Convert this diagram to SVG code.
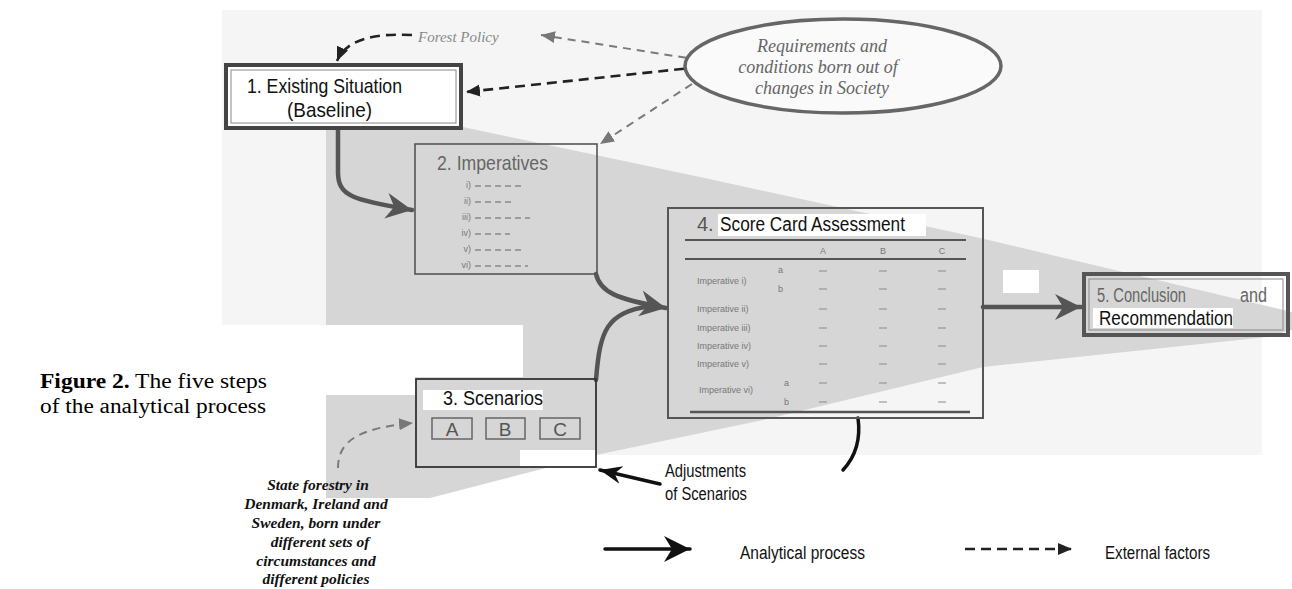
<svg xmlns="http://www.w3.org/2000/svg" width="1292" height="589" viewBox="0 0 1292 589">
<style>
.sans{font-family:"Liberation Sans",Arial,sans-serif}
.serif{font-family:"Liberation Serif","Times New Roman",serif}
.ital{font-family:"Liberation Serif","Times New Roman",serif;font-style:italic}
.solid{fill:none;stroke:#555;stroke-width:4.5;stroke-linecap:round}
.blk{fill:none;stroke:#111;stroke-width:3.5;stroke-linecap:round}
.dashG{fill:none;stroke:#7a7a7a;stroke-width:2;stroke-dasharray:8 6}
.dashD{fill:none;stroke:#222;stroke-width:2.6;stroke-dasharray:10 6}
.item{fill:none;stroke:#8a8a8a;stroke-width:1.3;stroke-dasharray:6 4}
.cell{stroke:#8a8a8a;stroke-width:1.2}
.small{font-family:"Liberation Sans",Arial,sans-serif;font-size:9px;fill:#777}
</style>
<defs>
<marker id="bigG" viewBox="-26 -14 28 28" refX="0" refY="0" markerWidth="28" markerHeight="28" markerUnits="userSpaceOnUse" orient="auto">
<path d="M0,0 L-26,-13 L-18,0 L-26,13 Z" fill="#555"/>
</marker>
<marker id="bigK" viewBox="-26 -14 28 28" refX="0" refY="0" markerWidth="28" markerHeight="28" markerUnits="userSpaceOnUse" orient="auto">
<path d="M0,0 L-26,-13 L-18,0 L-26,13 Z" fill="#111"/>
</marker>
<marker id="headK" viewBox="-22 -10 24 20" refX="0" refY="0" markerWidth="24" markerHeight="20" markerUnits="userSpaceOnUse" orient="auto">
<path d="M0,0 L-22,-9 L-15,0 L-22,9 Z" fill="#111"/>
</marker>
<marker id="triG" viewBox="-14 -7 15 14" refX="0" refY="0" markerWidth="15" markerHeight="14" markerUnits="userSpaceOnUse" orient="auto">
<path d="M0,0 L-14,-6 L-14,6 Z" fill="#777"/>
</marker>
<marker id="triD" viewBox="-14 -7 15 14" refX="0" refY="0" markerWidth="15" markerHeight="14" markerUnits="userSpaceOnUse" orient="auto">
<path d="M0,0 L-14,-6 L-14,6 Z" fill="#222"/>
</marker>
</defs>
<rect width="1292" height="589" fill="#fff"/>
<g id="background">
<rect x="222" y="10" width="1040" height="445" fill="#f5f5f5"/>
<polygon points="326,127 463,127 700,177 980,238 1292,312 1292,330 1267,337 983,367 763,420 596,455 430,498 326,498" fill="#d6d6d6"/>
<rect x="220" y="325" width="303" height="52" fill="#fff"/>
<rect x="220" y="377" width="195" height="18" fill="#fff"/>
<rect x="220" y="395" width="106" height="194" fill="#fff"/>
<rect x="520" y="450" width="76" height="17" fill="#fff"/>
<rect x="1003" y="270" width="36" height="23" fill="#fff"/>
</g>
<g id="caption">
<text class="serif" x="40" y="388" font-size="20" textLength="227" lengthAdjust="spacingAndGlyphs"><tspan font-weight="bold">Figure 2.</tspan> The five steps</text>
<text class="serif" x="40" y="413" font-size="20" textLength="226" lengthAdjust="spacingAndGlyphs">of the analytical process</text>
</g>
<g id="connectors">
<path class="solid" d="M338,130 L338,172 C338,196 352,200 412,210" marker-end="url(#bigG)"/>
<path class="solid" d="M596,274 C600,292 616,299 666,308" marker-end="url(#bigG)"/>
<path class="solid" d="M596,380 C600,330 606,313 650,306"/>
<path class="solid" d="M983,307 L1081,307" marker-end="url(#bigG)"/>
<path class="blk" d="M858,418 C861,440 856,456 843,470"/>
<path class="blk" d="M660,484 L600,470" marker-end="url(#headK)"/>
<path class="dashD" d="M412,35 C372,33 346,40 337,61" marker-end="url(#triD)"/>
<path class="dashG" d="M700,60 L541,35" marker-end="url(#triG)"/>
<path class="dashD" d="M700,67 L466,92" marker-end="url(#triD)"/>
<path class="dashG" d="M692,84 L600,144" marker-end="url(#triG)"/>
<path class="dashG" d="M700,61 L722,62" marker-end="url(#triG)"/>
<path class="dashG" d="M338,468 C338,440 360,428 413,423" marker-end="url(#triG)"/>
<path class="blk" d="M605,549 L690,549" stroke-width="5" marker-end="url(#bigK)"/>
<path class="dashD" d="M965,549 L1072,549" stroke-dasharray="8 6" marker-end="url(#triD)"/>
</g>
<g id="n1">
<rect x="226" y="65" width="235" height="63" fill="#fff" stroke="#444" stroke-width="4"/>
<rect x="231" y="70" width="225" height="53" fill="none" stroke="#888" stroke-width="1"/>
<text class="sans" x="247" y="93" font-size="21" fill="#111" textLength="155" lengthAdjust="spacingAndGlyphs">1.  Existing Situation</text>
<text class="sans" x="287" y="117" font-size="21" fill="#111" textLength="85" lengthAdjust="spacingAndGlyphs">(Baseline)</text>
</g>
<g id="ellipse">
<ellipse cx="843" cy="66" rx="158" ry="47" fill="#fafafa" stroke="#666" stroke-width="3.5"/>
<text class="ital" x="822" y="52" font-size="18" fill="#666" text-anchor="middle">Requirements and</text>
<text class="ital" x="818" y="73" font-size="18" fill="#666" text-anchor="middle">conditions born out of</text>
<text class="ital" x="822" y="94" font-size="18" fill="#666" text-anchor="middle">changes in Society</text>
</g>
<g id="forest-policy">
<text class="ital" x="418" y="42" font-size="15" fill="#888">Forest Policy</text>
</g>
<g id="n2">
<rect x="415" y="144" width="182" height="130" fill="none" stroke="#555" stroke-width="1.6"/>
<text class="sans" x="437" y="170" font-size="21" fill="#666" textLength="111" lengthAdjust="spacingAndGlyphs">2.  Imperatives</text>
<g class="small" text-anchor="end" font-size="10">
<text x="471" y="188">i)</text>
<text x="471" y="204">ii)</text>
<text x="471" y="220">iii)</text>
<text x="471" y="236">iv)</text>
<text x="471" y="252">v)</text>
<text x="471" y="268">vi)</text>
</g>
<path class="item" d="M475,186 L525,186 M475,202 L515,202 M475,218 L530,218 M475,234 L510,234 M475,250 L525,250 M475,266 L528,266"/>
</g>
<g id="n3">
<rect x="423" y="390" width="120" height="20" fill="#fff"/>
<rect x="416" y="379" width="180" height="88" fill="none" stroke="#333" stroke-width="1.8"/>
<text class="sans" x="443" y="405" font-size="20" fill="#111" textLength="100" lengthAdjust="spacingAndGlyphs">3.  Scenarios</text>
<g fill="none" stroke="#666" stroke-width="1.5">
<rect x="432" y="418" width="40" height="21"/>
<rect x="486" y="418" width="39" height="21"/>
<rect x="540" y="418" width="40" height="21"/>
</g>
<g class="sans" font-size="19" fill="#555" text-anchor="middle">
<text x="452" y="436">A</text>
<text x="505" y="436">B</text>
<text x="560" y="436">C</text>
</g>
</g>
<g id="state-forestry">
<g class="serif" font-size="15.5" font-weight="bold" font-style="italic" fill="#111" text-anchor="middle">
<text x="318" y="490">State forestry in</text>
<text x="316" y="509">Denmark, Ireland and</text>
<text x="316" y="528">Sweden, born under</text>
<text x="320" y="547">different sets of</text>
<text x="316" y="566">circumstances and</text>
<text x="316" y="584">different policies</text>
</g>
</g>
<g id="n4">
<rect x="718" y="214" width="208" height="22" fill="#fff"/>
<rect x="668" y="208" width="315" height="210" fill="none" stroke="#555" stroke-width="2"/>
<text class="sans" x="697" y="231" font-size="20" fill="#555">4.</text>
<text class="sans" x="720" y="231" font-size="20" fill="#111" textLength="185" lengthAdjust="spacingAndGlyphs">Score Card Assessment</text>
<path d="M685,240 L966,240 M685,259 L966,259" stroke="#555" stroke-width="2"/>
<path d="M690,412 L970,412" stroke="#555" stroke-width="2.5"/>
<g class="small" text-anchor="middle">
<text x="823" y="254">A</text>
<text x="883" y="254">B</text>
<text x="942" y="254">C</text>
</g>
<g class="small" font-size="8">
<text x="697" y="284">Imperative i)</text>
<text x="697" y="312">Imperative ii)</text>
<text x="697" y="331">Imperative iii)</text>
<text x="697" y="349">Imperative iv)</text>
<text x="697" y="367">Imperative v)</text>
<text x="699" y="393">Imperative vi)</text>
<text x="778" y="273">a</text>
<text x="778" y="292">b</text>
<text x="784" y="386">a</text>
<text x="784" y="405">b</text>
</g>
<g class="cell">
<path d="M819,271 h8 M879,271 h8 M938,271 h8 M819,289 h8 M879,289 h8 M938,289 h8 M819,309 h8 M879,309 h8 M938,309 h8 M819,328 h8 M879,328 h8 M938,328 h8 M819,346 h8 M879,346 h8 M938,346 h8 M819,364 h8 M879,364 h8 M938,364 h8 M819,383 h8 M879,383 h8 M938,383 h8 M819,402 h8 M879,402 h8 M938,402 h8"/>
</g>
</g>
<g id="n5">
<rect x="1093" y="308" width="140" height="20" fill="#fff"/>
<rect x="1084" y="274" width="204" height="61" fill="none" stroke="#555" stroke-width="4"/>
<rect x="1089" y="279" width="194" height="51" fill="none" stroke="#888" stroke-width="1"/>
<text class="sans" x="1097" y="302" font-size="20" fill="#666" textLength="89" lengthAdjust="spacingAndGlyphs">5.  Conclusion</text>
<text class="sans" x="1240" y="302" font-size="20" fill="#666" textLength="27" lengthAdjust="spacingAndGlyphs">and</text>
<text class="sans" x="1099" y="325" font-size="20" fill="#111" textLength="134" lengthAdjust="spacingAndGlyphs">Recommendation</text>
</g>
<g id="adjustments">
<text class="sans" x="665" y="477" font-size="18" fill="#111" textLength="81" lengthAdjust="spacingAndGlyphs">Adjustments</text>
<text class="sans" x="665" y="500" font-size="18" fill="#111" textLength="82" lengthAdjust="spacingAndGlyphs">of Scenarios</text>
</g>
<g id="legend">
<text class="sans" x="740" y="559" font-size="18" fill="#111" textLength="125" lengthAdjust="spacingAndGlyphs">Analytical process</text>
<text class="sans" x="1105" y="559" font-size="18" fill="#111" textLength="105" lengthAdjust="spacingAndGlyphs">External factors</text>
</g>
</svg>
